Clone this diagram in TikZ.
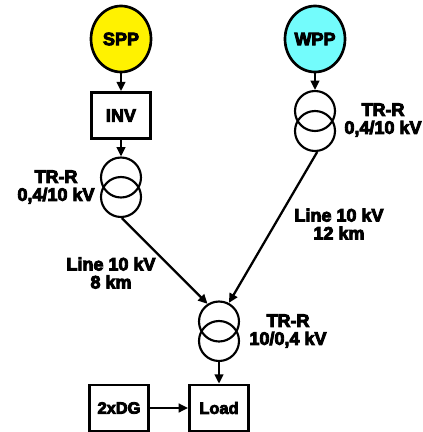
\documentclass[tikz,border=0pt]{standalone}
\usepackage{fontspec}
\setmainfont{Liberation Sans}[BoldFeatures={FakeBold=5}]
\usetikzlibrary{shapes.geometric,arrows.meta}
\definecolor{sppfill}{RGB}{255,242,0}
\definecolor{wppfill}{RGB}{115,252,252}
\tikzset{
  px/.style={x=0.75pt,y=-0.75pt},
  wire/.style={line width=1.7pt,-{Triangle[length=7pt,width=6.5pt]}},
  source/.style={ellipse,draw,line width=2pt,minimum width=45pt,minimum height=49.5pt,inner sep=0pt,font=\fontsize{13.5}{14}\selectfont\bfseries},
  unit/.style={rectangle,draw,line width=2pt,minimum width=44.5pt,minimum height=34.5pt,inner sep=0pt,font=\fontsize{13.5}{14}\selectfont\bfseries},
  smallunit/.style={unit,font=\fontsize{12.3}{14}\selectfont\bfseries},
  coil/.style={circle,draw,line width=1.6pt,minimum size=30pt,inner sep=0pt},
  note/.style={align=center,inner sep=0pt,font=\fontsize{13.5}{13.5}\selectfont\bfseries},
}
\begin{document}
\begin{tikzpicture}[px]
\useasboundingbox[fill=white] (0,0) rectangle (422,432);
\node[source,fill=sppfill] (spp) at (121,39) {SPP};
\node[source,fill=wppfill] (wpp) at (315,39) {WPP};
\node[unit] (inv) at (121,115.5) {INV};
\node[coil] (t1a) at (121,177.5) {};
\node[coil] (t1b) at (121,197) {};
\node[coil] (t2a) at (315,111) {};
\node[coil] (t2b) at (315,131) {};
\node[coil] (t3a) at (219,321.5) {};
\node[coil] (t3b) at (219,341) {};
\node[smallunit] (dg) at (119,408) {2xDG};
\node[smallunit] (load) at (219,408) {Load};
\draw[wire] (spp) -- (inv);
\draw[wire] (inv) -- (t1a);
\draw[wire] (wpp) -- (t2a);
\draw[wire] (t1b.-88) -- (t3a.123);
\draw[wire] (t2b.-84) -- (t3a.62);
\draw[wire] (t3b) -- (load);
\draw[wire] (dg) -- (load);
\node[note] (n1) at (56,187) {TR-R\\0,4/10 kV};
\node[note] (n2) at (383,120) {TR-R\\0,4/10 kV};
\node[note] (n3) at (111,273) {Line 10 kV\\8 km};
\node[note] (n4) at (339,224) {Line 10 kV\\12 km};
\node[note] (n5) at (288,331) {TR-R\\10/0,4 kV};
\end{tikzpicture}
\end{document}
